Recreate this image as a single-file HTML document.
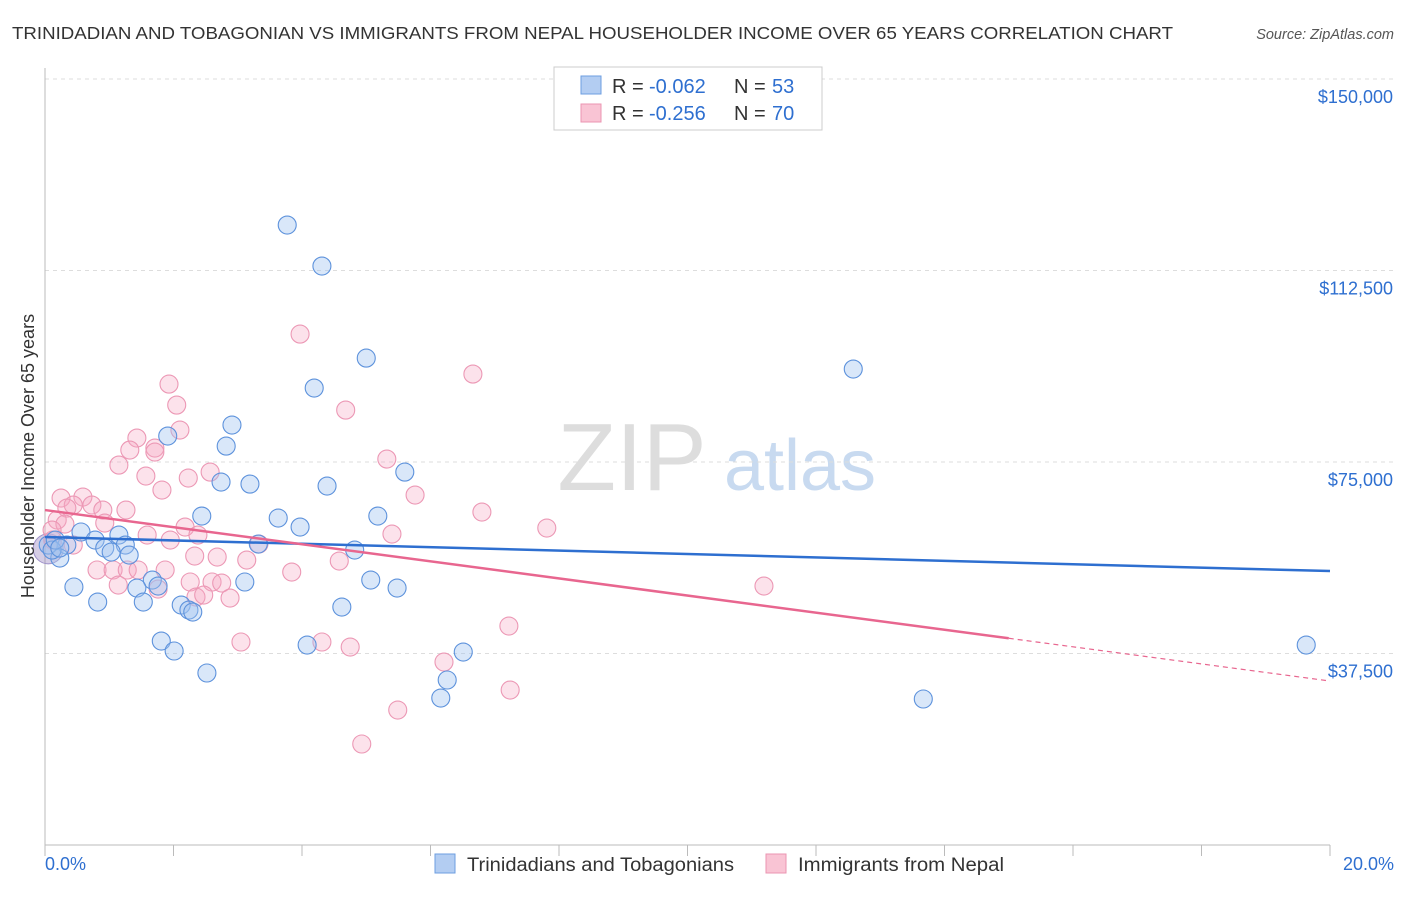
<!DOCTYPE html>
<html><head><meta charset="utf-8"><style>
body{margin:0;background:#fff;font-family:"Liberation Sans",sans-serif}
svg text{font-family:"Liberation Sans",sans-serif}
</style></head><body>
<svg id="c" width="1406" height="892" xmlns="http://www.w3.org/2000/svg">
<text x="12" y="39" font-size="17.5" fill="#333" textLength="1161" lengthAdjust="spacingAndGlyphs">TRINIDADIAN AND TOBAGONIAN VS IMMIGRANTS FROM NEPAL HOUSEHOLDER INCOME OVER 65 YEARS CORRELATION CHART</text>
<text x="1394" y="39" font-size="14.5" fill="#555" font-style="italic" text-anchor="end">Source: ZipAtlas.com</text>
<g><text x="632" y="490" font-size="96" fill="#ddd" font-family="Liberation Serif" text-anchor="middle">ZIP</text><text x="800" y="490" font-size="72" fill="#c8daf0" text-anchor="middle">atlas</text></g>
<g id="grid"></g><g id="axes"></g><g id="pts"></g><g id="lines"></g>
<g>
<rect x="554" y="67" width="268" height="63" fill="#fff" stroke="#ccc"/>
<rect x="581" y="76" width="20" height="18" fill="#b3cdf2" stroke="#6d9ee0"/>
<rect x="581" y="104" width="20" height="18" fill="#f9c4d4" stroke="#eb95b2"/>
<text x="612" y="93" font-size="20" fill="#333">R = </text><text x="649" y="93" font-size="20" fill="#2e6fd0">-0.062</text>
<text x="734" y="93" font-size="20" fill="#333">N = </text><text x="772" y="93" font-size="20" fill="#2e6fd0">53</text>
<text x="612" y="120" font-size="20" fill="#333">R = </text><text x="649" y="120" font-size="20" fill="#2e6fd0">-0.256</text>
<text x="734" y="120" font-size="20" fill="#333">N = </text><text x="772" y="120" font-size="20" fill="#2e6fd0">70</text>
</g>
<g>
<rect x="435" y="854" width="20" height="19" fill="#b3cdf2" stroke="#6d9ee0"/>
<text x="467" y="871" font-size="19" fill="#333" textLength="267" lengthAdjust="spacingAndGlyphs">Trinidadians and Tobagonians</text>
<rect x="766" y="854" width="20" height="19" fill="#f9c4d4" stroke="#eb95b2"/>
<text x="798" y="871" font-size="19" fill="#333" textLength="206" lengthAdjust="spacingAndGlyphs">Immigrants from Nepal</text>
</g>
<text transform="translate(34,456) rotate(-90)" font-size="18" fill="#333" text-anchor="middle">Householder Income Over 65 years</text>
</svg>
<script>
const yTicks=[37500,75000,112500,150000];
const yTickLabels=["$37,500","$75,000","$112,500","$150,000"];
const blueX=[3.77,4.31,5.00,12.58,4.19,2.91,1.91,2.82,5.60,2.74,3.19,4.39,2.44,3.63,5.18,3.97,3.32,4.82,0.56,1.15,0.34,0.78,0.93,1.25,1.03,1.31,0.23,0.05,0.11,1.67,5.07,3.11,5.48,1.76,1.43,0.45,0.82,1.53,2.12,4.62,2.24,2.30,1.81,2.01,4.08,6.51,19.63,2.52,6.26,6.16,13.67,0.16,0.23];
const blueY=[121400,113370,95350,93200,89480,82240,80080,78120,73030,71080,70680,70290,64420,64030,64420,62260,58940,57760,61290,60700,58740,59720,58150,58740,57370,56780,56190,58740,57760,51890,51890,51500,50320,50710,50320,50520,47580,47580,46990,46600,46010,45620,39940,37990,39160,37790,39160,33680,32310,28780,28590,59720,58150];
const pinkX=[3.97,6.66,1.93,2.05,4.68,2.10,1.43,1.32,1.71,1.71,1.15,5.32,1.57,2.23,2.57,1.82,5.76,0.25,0.59,0.44,0.73,0.34,0.90,1.26,6.80,7.81,0.19,0.93,1.59,2.18,5.40,1.95,2.38,0.31,3.33,0.44,2.33,2.68,3.14,4.58,3.84,0.81,1.06,1.28,1.45,1.87,1.14,2.26,2.60,2.75,1.76,2.35,2.88,2.47,11.19,7.22,3.05,4.31,4.75,6.21,7.24,5.49,4.93,0.12,0.11];
const pinkY=[100050,92220,90260,86150,85170,81260,79690,77340,77730,76950,74400,75580,72250,71860,73030,69510,68530,67940,68140,66570,66570,65980,65590,65590,65200,62070,63640,63050,60700,62260,60890,59720,60700,62850,58940,58740,56590,56390,55800,55610,53450,53850,53850,53850,53850,53850,50910,51500,51500,51300,50120,48560,48360,48950,50710,42880,39750,39750,38770,35830,30350,26430,19780,59720,61680];
const blueTrend=[60310,53650];
const pinkTrend=[65590,32110];
const pinkSolidEnd=15.0;
const X=v=>45+v/20*1285, Y=v=>845-v/150000*766;
const NS="http://www.w3.org/2000/svg";
function mk(tag,attrs,parent){const e=document.createElementNS(NS,tag);for(const k in attrs)e.setAttribute(k,attrs[k]);parent.appendChild(e);return e;}
const grid=document.getElementById('grid'),axes=document.getElementById('axes'),pts=document.getElementById('pts'),lines=document.getElementById('lines');
yTicks.forEach((t,i)=>{
 const l=mk('line',{x1:45,x2:1394,y1:Y(t),y2:Y(t),stroke:'#ddd','stroke-dasharray':'4,4'},grid);
 
 
 const tx=mk('text',{x:1393,y:Y(t)+24,'font-size':18,fill:'#2e6fd0','text-anchor':'end'},axes);
 tx.textContent=yTickLabels[i];
 
 
});
let a=mk('line',{x1:45,x2:45,y1:68,y2:845,stroke:'#bbb'},axes);


a=mk('line',{x1:45,x2:1330,y1:845,y2:845,stroke:'#bbb'},axes);


for(let i=0;i<=10;i++){const t=mk('line',{x1:X(i*2),x2:X(i*2),y1:845,y2:856,stroke:'#bbb'},axes);
 
 }
[["0.0%",45,'start'],["20.0%",1394,'end']].forEach(d=>{const t=mk('text',{x:d[1],y:870,'font-size':18,fill:'#2e6fd0','text-anchor':d[2]},axes);t.textContent=d[0];
 
 });
const bigDot=mk('circle',{cx:X(0.05),cy:Y(58000),r:15,fill:'rgba(150,130,190,0.4)',stroke:'#9d90c8'},pts);


pinkX.forEach((x,i)=>{const c=mk('circle',{cx:X(x),cy:Y(pinkY[i]),r:9,fill:'rgba(246,168,194,0.33)',stroke:'#ec98b5','stroke-width':1.1},pts);
 
 });
blueX.forEach((x,i)=>{const c=mk('circle',{cx:X(x),cy:Y(blueY[i]),r:9,fill:'rgba(160,196,240,0.4)',stroke:'#5d92dc','stroke-width':1.1},pts);
 
 });
let l=mk('line',{x1:X(0),y1:Y(blueTrend[0]),x2:X(20),y2:Y(blueTrend[1]),stroke:'#2e6fd0','stroke-width':2.5},lines);


const pm=v=>pinkTrend[0]+(pinkTrend[1]-pinkTrend[0])*v/20;
l=mk('line',{x1:X(0),y1:Y(pm(0)),x2:X(pinkSolidEnd),y2:Y(pm(pinkSolidEnd)),stroke:'#e8668f','stroke-width':2.5},lines);


l=mk('line',{x1:X(pinkSolidEnd),y1:Y(pm(pinkSolidEnd)),x2:X(20),y2:Y(pm(20)),stroke:'#e8668f','stroke-width':1.2,'stroke-dasharray':'5,4'},lines);


</script>
</body></html>
